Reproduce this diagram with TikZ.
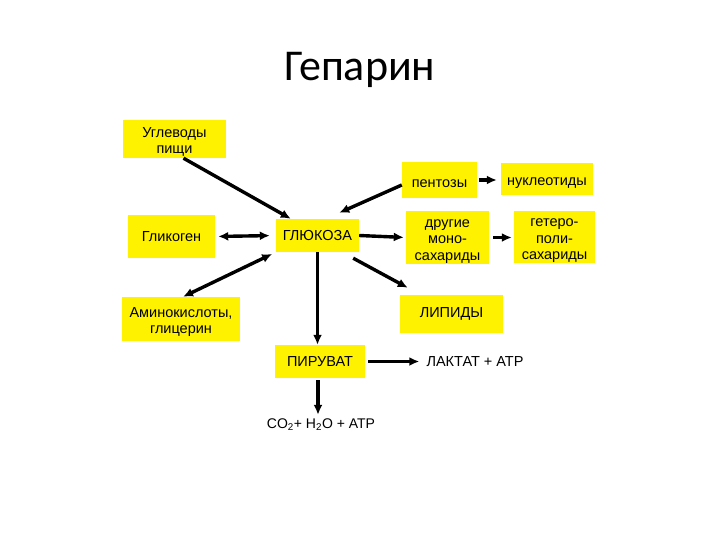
\documentclass[tikz,border=0pt]{standalone}
\usepackage{fontspec}
\setmainfont{Liberation Sans}
\newfontfamily\titlefont{Carlito}
\usetikzlibrary{arrows.meta,positioning}
\newcommand\boxstrut{\rule{0pt}{16pt}}

\begin{document}
\begin{tikzpicture}[x=1pt,y=-1pt,>={Latex[length=10pt,width=9pt]}]
  \tikzstyle{box}=[fill=yellow,align=center,inner sep=0pt,font=\fontsize{14.5}{16.5}\selectfont]
  \tikzstyle{txt}=[align=center,inner sep=1pt,font=\fontsize{14.5}{16.5}\selectfont]
  \tikzstyle{arr}=[line width=3.4pt]
  \useasboundingbox (0,0) rectangle (720,540);
  \node[font=\titlefont\fontsize{44}{48}\selectfont] (title) at (360,70) {Гепарин};
  % boxes
  \node[box,minimum width=103pt,minimum height=38pt] (ugl) at (174.5,139) {\boxstrut Углеводы\\пищи};
  \node[box,minimum width=87pt,minimum height=43pt] (gly) at (171.5,236.5) {Гликоген};
  \node[box,minimum width=83pt,minimum height=33pt] (glu) at (317.5,235.5) {ГЛЮКОЗА};
  \node[box,minimum width=75pt,minimum height=36pt] (pen) at (439.5,180) {\boxstrut пентозы};
  \node[box,minimum width=92pt,minimum height=32pt] (nuc) at (547,179) {\boxstrut нуклеотиды};
  \node[box,minimum width=83pt,minimum height=50pt] (mono) at (447.5,237.5) {\boxstrut другие\\моно-\\сахариды};
  \node[box,minimum width=81pt,minimum height=50pt] (het) at (554.5,237) {\boxstrut гетеро-\\поли-\\сахариды};
  \node[box,minimum width=118pt,minimum height=44pt] (amino) at (181,319) {\boxstrut Аминокислоты,\\глицерин};
  \node[box,minimum width=103pt,minimum height=38pt] (lip) at (451.5,314) {ЛИПИДЫ};
  \node[box,minimum width=90pt,minimum height=33pt] (pyr) at (320,361.5) {ПИРУВАТ};
  \node[txt] (lac) at (475,362) {ЛАКТАТ + АТР};
  \node[txt,font=\fontsize{14}{16}\selectfont] (co2) at (321,425) {CO\textsubscript{2}+ H\textsubscript{2}O + ATP};
  % arrows
  \draw[arr,->] ([xshift=9]ugl.south) -- ([xshift=15]glu.north west);
  \draw[arr,->] ([yshift=-5]pen.west) -- ([xshift=-20,yshift=6]glu.north east);
  \draw[arr,->,shorten >=2pt] (glu.east) -- (mono.west);
  \draw[arr,<->,shorten <=3pt,shorten >=6pt] (gly.east) -- (glu.west);
  \draw[arr,<->,shorten >=4pt] ([xshift=2]amino.north) -- (glu.south west);
  \draw[arr,->] ([xshift=-6,yshift=-6]glu.south east) -- ([xshift=8,yshift=7]lip.north west);
  \draw[arr,->] (glu.south) -- (glu.south |- pyr.north);
  \draw[arr,->,shorten <=3pt,shorten >=6pt] (pyr.east) -- (pyr.east -| lac.west);
  \draw[arr,->,shorten <=2pt,shorten >=3pt] ([xshift=-2]pyr.south) -- ([xshift=-2]pyr.south |- co2.north);
  \draw[arr,->,shorten <=2pt,shorten >=4pt] (pen.east) -- (pen.east -| nuc.west);
  \draw[arr,->,shorten <=4pt,shorten >=2pt] (mono.east) -- (mono.east -| het.west);
\end{tikzpicture}
\end{document}
